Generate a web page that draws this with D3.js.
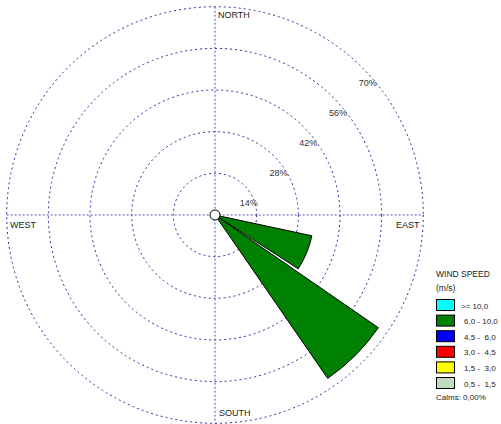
<!DOCTYPE html>
<html><head><meta charset="utf-8">
<script src="https://cdn.jsdelivr.net/npm/d3@7"></script>
<style>
html,body{margin:0;padding:0;background:#fff;}
svg{display:block;font-family:"Liberation Sans",Arial,sans-serif;}
</style></head>
<body><svg id="c" width="501" height="424"></svg>
<script>
const directions = ["N","NNE","NE","ENE","E","ESE","SE","SSE","S","SSW","SW","WSW","W","WNW","NW","NNW"];
const speedClasses = [">= 10,0","6,0 - 10,0","4,5 -  6,0","3,0 -  4,5","1,5 -  3,0","0,5 -  1,5"];
const classColors = ["#00ffff","#008000","#0000ff","#ff0000","#ffff00","#c0dcc0"];
// percentage of time per direction for each speed class (innermost first when stacking: slowest)
const s05_15  = [0,0,0,0,0,0,0,0,0,0,0,0,0,0,0,0];
const s15_30  = [0,0,0,0,0,0,0,0,0,0,0,0,0,0,0,0];
const s30_45  = [0,0,0,0,0,0,0,0,0,0,0,0,0,0,0,0];
const s45_60  = [0,0,0,0,0,0,0,0,0,0,0,0,0,0,0,0];
const s60_100 = [0,0,0,0,0,33.3,66.7,0,0,0,0,0,0,0,0,0];
const s100    = [0,0,0,0,0,0,0,0,0,0,0,0,0,0,0,0];
const ringTicks = [14,28,42,56,70];
const cardinals = ["NORTH","EAST","SOUTH","WEST"];
const calmsText = "Calms: 0,00%";

const svg = d3.select("#c");
const cx = 215, cy = 215;
const r = d3.scaleLinear().domain([0,70]).range([0,208.3]);
const ang = d3.scaleLinear().domain([0,16]).range([0,2*Math.PI]);
const grid = "#2a2aa0";

const g = svg.append("g").attr("transform",`translate(${cx},${cy})`);
// rings
g.selectAll("circle.ring").data(ringTicks).join("circle")
  .attr("r",d=>r(d)).attr("fill","none").attr("stroke",grid)
  .attr("stroke-width",1).attr("stroke-dasharray","2,3");
// axes
const R = r(70);
g.append("line").attr("x1",-R).attr("x2",R).attr("y1",0).attr("y2",0)
  .attr("stroke",grid).attr("stroke-dasharray","2,2").attr("opacity",0.8);
g.append("line").attr("y1",-R).attr("y2",R).attr("x1",0).attr("x2",0)
  .attr("stroke",grid).attr("stroke-dasharray","2,2").attr("opacity",0.8);

// stacked wedges
const series = [s05_15,s15_30,s30_45,s45_60,s60_100,s100];
const seriesColors = ["#c0dcc0","#ffff00","#ff0000","#0000ff","#008000","#00ffff"];
const half = 10.4*Math.PI/180;
const arc = d3.arc();
directions.forEach((d,i)=>{
  let base = 0;
  series.forEach((s,k)=>{
    const v = s[i];
    if(v>0){
      const a = ang(i);
      g.append("path").attr("d",arc({innerRadius:r(base),outerRadius:r(base+v),startAngle:a-half,endAngle:a+half}))
        .attr("fill",seriesColors[k]).attr("stroke","#000").attr("stroke-width",1);
    }
    base += v;
  });
});
// center calm circle
g.append("circle").attr("r",5).attr("fill","#fff").attr("stroke","#000");

// ring labels
g.selectAll("text.rl").data(ringTicks).join("text")
  .attr("x",d=>r(d)*0.714+4).attr("y",d=>-r(d)*0.72+18+3)
  .attr("text-anchor","middle").attr("font-size",9).attr("fill","#333")
  .text(d=>d+"%");

// cardinal labels
svg.append("text").attr("x",218).attr("y",18).attr("font-size",9).attr("fill","#222").text(cardinals[0]);
svg.append("text").attr("x",396).attr("y",228).attr("font-size",9).attr("fill","#222").text(cardinals[1]);
svg.append("text").attr("x",219).attr("y",416).attr("font-size",9).attr("fill","#222").text(cardinals[2]);
svg.append("text").attr("x",10).attr("y",228).attr("font-size",9).attr("fill","#222").text(cardinals[3]);

// legend
const lg = svg.append("g").attr("font-size",8.5).attr("fill","#222");
lg.append("text").attr("x",436).attr("y",277).text("WIND SPEED");
lg.append("text").attr("x",436).attr("y",291).text("(m/s)");
speedClasses.forEach((t,i)=>{
  const y = 299 + 15.6*i;
  lg.append("rect").attr("x",436.5).attr("y",y+0.5).attr("width",18).attr("height",11)
    .attr("fill",classColors[i]).attr("stroke","#000");
  lg.append("text").attr("x",i===0?461:464).attr("y",y+9.5).attr("font-size",8)
    .attr("xml:space","preserve").style("white-space","pre").text(t);
});
lg.append("text").attr("x",436).attr("y",400).attr("font-size",8).text(calmsText);
</script></body></html>
